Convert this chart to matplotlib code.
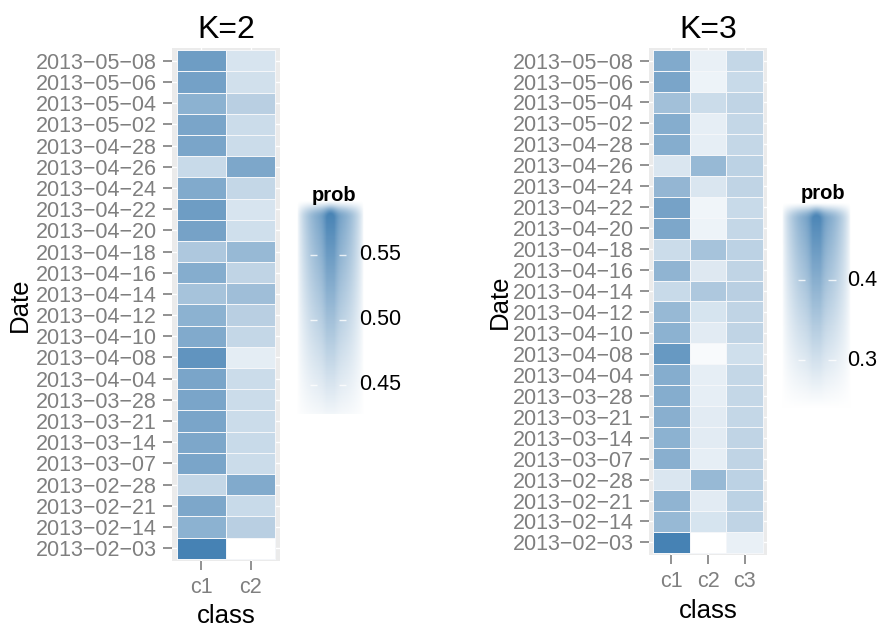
import numpy as np
import matplotlib
matplotlib.use("Agg")
import matplotlib.pyplot as plt
from matplotlib.colors import LinearSegmentedColormap

plt.rcParams['font.family'] = ['Liberation Sans', 'DejaVu Sans']

# ---- data -------------------------------------------------------------
dates = ["2013-05-08", "2013-05-06", "2013-05-04", "2013-05-02", "2013-04-28",
         "2013-04-26", "2013-04-24", "2013-04-22", "2013-04-20", "2013-04-18",
         "2013-04-16", "2013-04-14", "2013-04-12", "2013-04-10", "2013-04-08",
         "2013-04-04", "2013-03-28", "2013-03-21", "2013-03-14", "2013-03-07",
         "2013-02-28", "2013-02-21", "2013-02-14", "2013-02-03"]

classes_k2 = ["c1", "c2"]
k2_c1 = [0.548, 0.543, 0.520, 0.537, 0.537, 0.466, 0.531, 0.548, 0.541, 0.490,
         0.527, 0.497, 0.520, 0.531, 0.560, 0.537, 0.537, 0.537, 0.534, 0.537,
         0.470, 0.534, 0.520, 0.585]
k2_c2 = [0.452, 0.457, 0.480, 0.463, 0.463, 0.534, 0.469, 0.452, 0.459, 0.510,
         0.473, 0.503, 0.480, 0.469, 0.440, 0.463, 0.463, 0.463, 0.466, 0.463,
         0.530, 0.466, 0.480, 0.415]

classes_k3 = ["c1", "c2", "c3"]
k3_c1 = [0.410, 0.420, 0.365, 0.405, 0.405, 0.290, 0.385, 0.425, 0.415, 0.310,
         0.390, 0.315, 0.380, 0.395, 0.445, 0.405, 0.405, 0.400, 0.395, 0.400,
         0.290, 0.390, 0.380, 0.490]
k3_c2 = [0.270, 0.265, 0.310, 0.275, 0.275, 0.380, 0.290, 0.260, 0.265, 0.360,
         0.285, 0.350, 0.295, 0.280, 0.250, 0.275, 0.275, 0.280, 0.280, 0.275,
         0.380, 0.280, 0.295, 0.240]
k3_c3 = [0.320, 0.315, 0.325, 0.320, 0.320, 0.330, 0.325, 0.315, 0.320, 0.330,
         0.325, 0.335, 0.325, 0.325, 0.305, 0.320, 0.320, 0.320, 0.325, 0.325,
         0.330, 0.330, 0.325, 0.270]

k2_ticks = [0.45, 0.50, 0.55]
k3_ticks = [0.3, 0.4]

# ---- style ------------------------------------------------------------
W, H = 881, 628
cmap = LinearSegmentedColormap.from_list("wb", ["#FFFFFF", "#4682B4"])
GREY = "#7F7F7F"
PANEL = "#EBEBEB"


def fx(px):
    return px / W


def fy(py):
    return 1 - py / H


fig = plt.figure(figsize=(W / 100, H / 100), dpi=100)


def heat_panel(rect, classes, cols, title, title_x, ylab_x, ylab_y, xlab_y):
    ax = fig.add_axes(rect)
    data = np.array(cols).T
    n, m = data.shape
    ax.set_facecolor(PANEL)
    # white grid under the tiles (shows in the small panel margin)
    for v in range(m):
        ax.axvline(v, color="white", lw=1.0, zorder=0)
    for v in range(n):
        ax.axhline(v, color="white", lw=1.0, zorder=0)
    xe = np.arange(m + 1) - 0.5
    ye = np.arange(n + 1) - 0.5
    ax.pcolormesh(xe, ye, data, cmap=cmap, vmin=data.min(), vmax=data.max(),
                  edgecolors="#F4F6F9", linewidth=0.45, zorder=2)
    ax.set_xlim(-0.6, m - 0.4)
    ax.set_ylim(n - 0.4, -0.6)
    for s in ax.spines.values():
        s.set_visible(False)
    ax.set_xticks(range(m))
    ax.set_xticklabels(classes)
    ax.set_yticks(range(n))
    ax.set_yticklabels([d.replace("-", "\u2212") for d in dates])
    ax.tick_params(axis="both", colors=GREY, labelcolor=GREY, length=6.5,
                   width=1.2, labelsize=15.5)
    ax.tick_params(axis="y", pad=4.5)
    ax.tick_params(axis="x", pad=5)
    fig.text(fx(title_x), fy(38), title, fontsize=23, ha="center", va="baseline")
    fig.text(fx(title_x), fy(xlab_y), "class", fontsize=18.5, ha="center", va="baseline")
    fig.text(fx(ylab_x), fy(ylab_y), "Date", fontsize=18.5, rotation=90,
             rotation_mode="anchor", ha="center", va="baseline")
    return data.min(), data.max()


def blur_legend(rect, vmin, vmax, top, bottom, ticks, dash, lab_u, title_x, title_y):
    # blurred colour bar: gradient with soft edges
    ax = fig.add_axes(rect)
    ax.set_axis_off()
    nh, nw = 300, 100
    vals = np.linspace(top, bottom, nh)[:, None]
    t = np.clip((vals - vmin) / (vmax - vmin), 0, 1)
    rgba = cmap(np.repeat(t, nw, axis=1))
    u = np.linspace(0, 1, nw)[None, :]
    hx = 0.8 * np.sin(np.pi * u) ** 0.7 + 0.3 * np.exp(-((u - 0.5) / 0.09) ** 2)
    yy = np.linspace(0, 1, nh)[:, None]
    vy = np.sin(np.pi / 2 * np.clip(yy / 0.08, 0, 1)) ** 1.5
    rgba[..., 3] = np.clip(hx * vy, 0, 1)
    ax.imshow(rgba, extent=[0, 1, bottom, top], aspect="auto", interpolation="bilinear")
    ax.set_xlim(0, 1.5)
    ax.set_ylim(bottom, top)
    for tk in ticks:
        ax.hlines(tk, dash[0], dash[1], color="white", lw=1.0, alpha=0.8)
        ax.hlines(tk, dash[2], dash[3], color="white", lw=1.0, alpha=0.8)
        ax.text(lab_u, tk, "%g" % tk if len(ticks) == 2 else "%.2f" % tk,
                fontsize=15.5, ha="left", va="center")
    fig.text(fx(title_x), fy(title_y), "prob", fontsize=14.5, fontweight="bold",
             ha="center", va="baseline")


# ---- K=2 --------------------------------------------------------------
r2 = [fx(172), fy(561), fx(280) - fx(172), fy(48) - fy(561)]
lo2, hi2 = heat_panel(r2, classes_k2, [k2_c1, k2_c2], "K=2", 226, 27, 305, 623)
blur_legend([fx(297), fy(414), fx(297 + 100) - fx(297), fy(200) - fy(414)],
            lo2, hi2, 0.5923, 0.4276, k2_ticks, (0.2, 0.3, 0.63, 0.73), 0.935, 334, 201)

# ---- K=3 --------------------------------------------------------------
r3 = [fx(649), fy(555), fx(767) - fx(649), fy(48) - fy(555)]
lo3, hi3 = heat_panel(r3, classes_k3, [k3_c1, k3_c2, k3_c3], "K=3", 708, 507, 302, 618)
blur_legend([fx(782), fy(414), fx(782 + 102) - fx(782), fy(202) - fy(414)],
            lo3, hi3, 0.4975, 0.2325, k3_ticks, (0.23, 0.34, 0.68, 0.79), 0.96, 823, 199)

fig.savefig("out.png", dpi=100)
